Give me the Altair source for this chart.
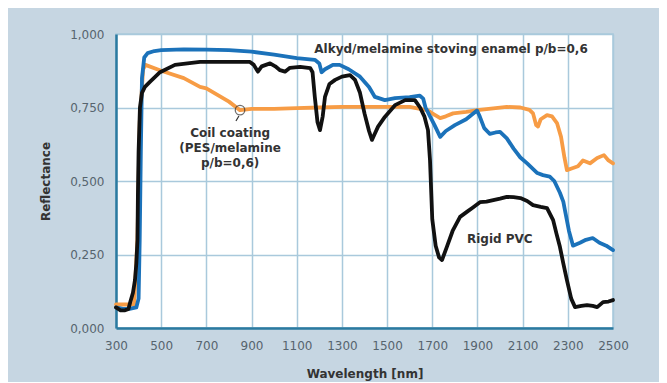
import altair as alt
import pandas as pd

# ---- data ----
alkyd_nm = [300, 330, 360, 390, 400, 405, 410, 415, 425, 440, 470, 500, 600, 700, 800, 900, 1000,
            1100, 1180, 1200, 1210, 1225, 1260, 1290, 1330, 1380, 1420, 1446, 1470, 1490, 1535, 1600,
            1645, 1660, 1670, 1690, 1710, 1735, 1760, 1800, 1850, 1898, 1910, 1930, 1955, 1980, 2000,
            2030, 2060, 2090, 2120, 2165, 2190, 2220, 2240, 2265, 2280, 2290, 2305, 2323, 2354, 2380,
            2410, 2440, 2470, 2500]
alkyd_val = [0.07, 0.065, 0.065, 0.07, 0.1, 0.3, 0.6, 0.85, 0.92, 0.935, 0.942, 0.945, 0.948, 0.947,
             0.945, 0.94, 0.93, 0.918, 0.912, 0.9, 0.87, 0.88, 0.895, 0.895, 0.88, 0.855, 0.82, 0.786,
             0.78, 0.775, 0.782, 0.785, 0.79, 0.78, 0.75, 0.72, 0.69, 0.65, 0.67, 0.69, 0.71, 0.74,
             0.72, 0.68, 0.66, 0.665, 0.667, 0.645, 0.61, 0.58, 0.56, 0.527, 0.52, 0.515, 0.5, 0.46,
             0.43, 0.39, 0.33, 0.28, 0.29, 0.30, 0.306, 0.29, 0.28, 0.265]

coil_nm = [300, 340, 380, 395, 405, 420, 430, 500, 600, 672, 700, 800, 849, 900, 1000, 1100, 1200,
           1300, 1400, 1500, 1600, 1680, 1700, 1735, 1760, 1792, 1850, 1900, 1950, 2030, 2090, 2130,
           2146, 2160, 2168, 2180, 2208, 2230, 2252, 2270, 2285, 2296, 2323, 2345, 2367, 2398, 2430,
           2460, 2480, 2500]
coil_val = [0.08, 0.08, 0.08, 0.3, 0.7, 0.88, 0.895, 0.875, 0.85, 0.82, 0.815, 0.77, 0.741, 0.745,
            0.745, 0.748, 0.75, 0.752, 0.752, 0.752, 0.752, 0.74, 0.73, 0.714, 0.72, 0.73, 0.735,
            0.741, 0.745, 0.752, 0.75, 0.742, 0.73, 0.69, 0.685, 0.71, 0.724, 0.72, 0.697, 0.65,
            0.58, 0.537, 0.544, 0.55, 0.57, 0.56, 0.578, 0.588, 0.57, 0.56]

pvc_nm = [300, 320, 340, 355, 362, 375, 384, 390, 395, 397, 400, 406, 415, 428, 450, 495, 561, 672,
          800, 893, 910, 928, 945, 982, 1005, 1026, 1048, 1070, 1115, 1160, 1170, 1180, 1192, 1203,
          1215, 1225, 1245, 1270, 1300, 1336, 1358, 1380, 1400, 1420, 1433, 1445, 1460, 1490, 1535,
          1580, 1623, 1646, 1665, 1681, 1690, 1700, 1715, 1730, 1743, 1765, 1790, 1823, 1853, 1880,
          1911, 1940, 1970, 2000, 2030, 2060, 2090, 2120, 2146, 2180, 2208, 2235, 2250, 2265, 2280,
          2296, 2315, 2332, 2360, 2385, 2410, 2430, 2456, 2480, 2500]
pvc_val = [0.07, 0.06, 0.06, 0.065, 0.085, 0.12, 0.163, 0.22, 0.3, 0.45, 0.6, 0.75, 0.8, 0.82,
           0.837, 0.87, 0.895, 0.905, 0.905, 0.905, 0.895, 0.872, 0.89, 0.90, 0.89, 0.877, 0.872,
           0.885, 0.888, 0.884, 0.87, 0.786, 0.7, 0.673, 0.72, 0.786, 0.83, 0.844, 0.855, 0.86,
           0.844, 0.8, 0.73, 0.67, 0.64, 0.66, 0.685, 0.718, 0.758, 0.775, 0.775, 0.75, 0.72,
           0.673, 0.57, 0.37, 0.28, 0.24, 0.231, 0.277, 0.33, 0.378, 0.395, 0.41, 0.428, 0.43,
           0.435, 0.44, 0.446, 0.445, 0.442, 0.432, 0.418, 0.412, 0.408, 0.367, 0.32, 0.276, 0.22,
           0.163, 0.1, 0.071, 0.075, 0.078, 0.075, 0.071, 0.088, 0.09, 0.095]

x_ticks = [300, 500, 700, 900, 1100, 1300, 1500, 1700, 1900, 2100, 2300, 2500]
y_ticks = [0.0, 0.25, 0.5, 0.75, 1.0]

label_text = ["Alkyd/melamine stoving enamel p/b=0,6", "Coil coating", "(PES/melamine",
              "p/b=0,6)", "Rigid PVC"]
label_nm = [1783, 805, 805, 805, 1999]
label_val = [0.949, 0.663, 0.612, 0.561, 0.303]

marker_nm = [849]
marker_val = [0.741]
leader_nm = [844]
leader_val = [0.721]
leader_nm2 = [831]
leader_val2 = [0.704]

# ---- styling ----
BG = "#c6d6e2"
GRID = "#a9c9dc"
AXIS = "#2b7aa0"
BLUE = "#1b72ba"
ORANGE = "#f79c45"
BLACK = "#111111"
FONT = "DejaVu Sans"

alkyd = pd.DataFrame({"nm": alkyd_nm, "r": alkyd_val})
coil = pd.DataFrame({"nm": coil_nm, "r": coil_val})
pvc = pd.DataFrame({"nm": pvc_nm, "r": pvc_val})
labels = pd.DataFrame({"nm": label_nm, "r": label_val, "t": label_text})
marker = pd.DataFrame({"nm": marker_nm, "r": marker_val})
leader = pd.DataFrame({"nm": leader_nm, "r": leader_val, "nm2": leader_nm2, "r2": leader_val2})

x_enc = alt.X("nm:Q", scale=alt.Scale(domain=[300, 2500], nice=False, zero=False),
              axis=alt.Axis(values=x_ticks, format="d", title="Wavelength [nm]",
                            labelFlush=False, labelPadding=12, titlePadding=17))
y_enc = alt.Y("r:Q", scale=alt.Scale(domain=[0, 1], nice=False),
              axis=alt.Axis(values=y_ticks, title="Reflectance", labelFlush=False,
                            labelExpr="replace(format(datum.value, '.3f'), '.', ',')",
                            labelPadding=12, titlePadding=17))

def line(df, color):
    return alt.Chart(df).mark_line(color=color, strokeWidth=3.8, strokeJoin="round",
                                   strokeCap="round").encode(x=x_enc, y=y_enc)

texts = alt.Chart(labels).mark_text(font=FONT, fontSize=12, fontWeight="bold",
                                    color="#333333", align="center", baseline="middle").encode(
    x=x_enc, y=y_enc, text="t:N")

circle = alt.Chart(marker).mark_point(shape="circle", size=90, filled=False, color="#333333",
                                      strokeWidth=1.3).encode(x=x_enc, y=y_enc)
lead = alt.Chart(leader).mark_rule(color="#333333", strokeWidth=1.2).encode(
    x=x_enc, y=y_enc, x2="nm2:Q", y2="r2:Q")

chart = alt.layer(line(coil, ORANGE), line(alkyd, BLUE), line(pvc, BLACK),
                  circle, lead, texts).properties(
    width=497, height=294,
    padding={"left": 108, "top": 26, "right": 46, "bottom": 54},
    autosize=alt.AutoSizeParams(type="none"),
    background=BG,
).configure_view(fill="white", stroke=GRID, strokeWidth=1.5).configure_axis(
    gridColor=GRID, gridWidth=1.5, domainColor=AXIS, domainWidth=2.5, ticks=False,
    labelFont=FONT, labelFontSize=12, labelColor="#56646e",
    titleFont=FONT, titleFontSize=12, titleFontWeight="bold", titleColor="#333333",
)

chart.save("out.html", embed_options={"renderer": "svg", "actions": False})
